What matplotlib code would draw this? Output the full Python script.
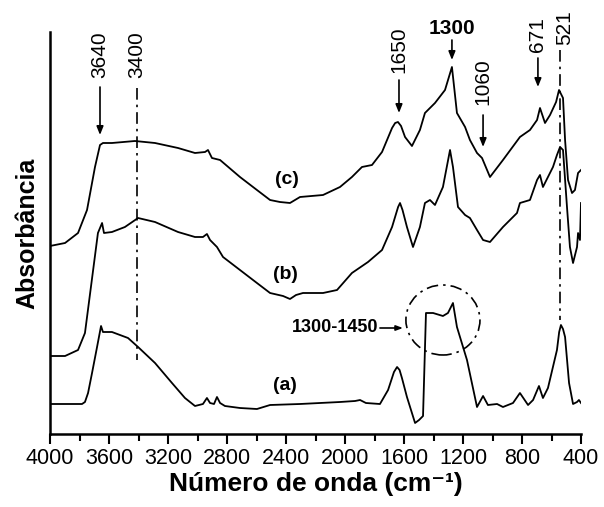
import matplotlib
matplotlib.use("Agg")
import matplotlib.pyplot as plt
from matplotlib.patches import Ellipse

plt.rcParams['font.family'] = ['Liberation Sans', 'DejaVu Sans']

# ---- data (wavenumber in cm-1, absorbance in arbitrary units) ----
wn_a = [4000, 3783, 3763, 3742, 3715, 3681, 3654, 3641, 3580, 3471, 3403, 3288, 3173, 3085, 3017,
        2963, 2936, 2915, 2888, 2868, 2847, 2814, 2712, 2597, 2508, 2305, 2034, 1932, 1898, 1858,
        1763, 1708, 1668, 1647, 1630, 1614, 1580, 1525, 1498, 1471, 1451, 1403, 1336, 1302, 1268,
        1241, 1173, 1105, 1064, 1031, 969, 929, 861, 814, 759, 725, 685, 658, 624, 563, 548, 536,
        522, 508, 481, 454, 427, 414, 400]
abs_a = [0.30, 0.30, 0.32, 0.41, 0.61, 0.87, 1.08, 1.02, 1.02, 0.96, 0.87, 0.71, 0.51, 0.36, 0.28,
         0.30, 0.36, 0.31, 0.30, 0.37, 0.31, 0.28, 0.26, 0.25, 0.29, 0.30, 0.32, 0.33, 0.34, 0.31,
         0.30, 0.44, 0.62, 0.67, 0.64, 0.56, 0.37, 0.11, 0.14, 0.18, 1.21, 1.21, 1.18, 1.21, 1.31,
         1.07, 0.74, 0.27, 0.38, 0.29, 0.30, 0.27, 0.31, 0.41, 0.29, 0.34, 0.48, 0.36, 0.46, 0.84,
         1.02, 1.09, 1.05, 0.97, 0.51, 0.30, 0.32, 0.34, 0.31]

wn_b = [4000, 3898, 3810, 3763, 3675, 3647, 3634, 3580, 3492, 3403, 3288, 3132, 3017, 2963, 2936,
        2915, 2868, 2827, 2712, 2597, 2508, 2420, 2373, 2332, 2285, 2149, 2054, 1953, 1844, 1749,
        1681, 1640, 1627, 1610, 1580, 1539, 1492, 1458, 1424, 1390, 1336, 1288, 1268, 1234, 1186,
        1153, 1105, 1064, 1017, 929, 834, 814, 746, 698, 678, 658, 624, 590, 563, 542, 522, 495,
        475, 454, 427, 420, 407, 400]
abs_b = [0.78, 0.78, 0.84, 1.01, 2.01, 2.11, 2.01, 2.02, 2.07, 2.16, 2.12, 2.02, 1.97, 1.97, 2.00,
         1.94, 1.87, 1.77, 1.64, 1.51, 1.41, 1.38, 1.35, 1.39, 1.41, 1.41, 1.44, 1.61, 1.72, 1.84,
         2.07, 2.27, 2.31, 2.24, 2.07, 1.87, 2.07, 2.31, 2.34, 2.29, 2.47, 2.84, 2.67, 2.27, 2.19,
         2.16, 2.04, 1.94, 1.92, 2.07, 2.21, 2.31, 2.34, 2.54, 2.59, 2.47, 2.57, 2.67, 2.79, 2.87,
         2.84, 2.27, 1.87, 1.71, 1.87, 2.01, 1.94, 2.31]

wn_c = [4000, 3898, 3810, 3749, 3695, 3661, 3641, 3580, 3424, 3288, 3132, 3017, 2949, 2929, 2902,
        2847, 2712, 2597, 2508, 2441, 2373, 2305, 2149, 2034, 1953, 1885, 1817, 1749, 1681, 1660,
        1641, 1620, 1593, 1546, 1492, 1458, 1390, 1322, 1275, 1241, 1186, 1153, 1105, 1071, 1017,
        929, 814, 746, 698, 678, 644, 610, 569, 549, 522, 508, 488, 461, 441, 420, 400]
abs_c = [1.88, 1.91, 2.01, 2.24, 2.67, 2.89, 2.91, 2.91, 2.93, 2.91, 2.86, 2.81, 2.82, 2.84, 2.76,
         2.74, 2.57, 2.44, 2.34, 2.32, 2.31, 2.37, 2.39, 2.47, 2.57, 2.67, 2.69, 2.82, 3.06, 3.11,
         3.12, 3.08, 2.97, 2.88, 3.04, 3.21, 3.31, 3.44, 3.67, 3.21, 3.07, 2.94, 2.81, 2.76, 2.57,
         2.74, 2.97, 3.04, 3.14, 3.26, 3.11, 3.19, 3.32, 3.44, 3.36, 2.94, 2.54, 2.41, 2.44, 2.61,
         2.64]

xticks = [4000, 3600, 3200, 2800, 2400, 2000, 1600, 1200, 800, 400]

# ---- figure ----
fig = plt.figure(figsize=(6.04, 5.07), dpi=100)
ax = fig.add_axes([50/604, 73/507, 531/604, 402/507])

for w, a in [(wn_a, abs_a), (wn_b, abs_b), (wn_c, abs_c)]:
    ax.plot(w, a, color='black', lw=1.3)

ax.set_xlim(4000, 400)
ax.set_ylim(0, 4.02)
ax.set_xticks(xticks)
ax.set_xticks(range(400, 4001, 200), minor=True)
ax.set_yticks([])
ax.tick_params(axis='x', which='major', direction='out', length=7, width=1.5,
               labelsize=15.5, pad=3)
ax.tick_params(axis='x', which='minor', direction='out', length=5, width=1.5)
for s in ['top', 'right']:
    ax.spines[s].set_visible(False)
for s in ['left', 'bottom']:
    ax.spines[s].set_linewidth(1.8)

ax.set_xlabel('Número de onda (cm\u207b\u00b9)', fontsize=19, fontweight='bold', labelpad=2)
ax.set_ylabel('Absorbância', fontsize=18, fontweight='bold', labelpad=8)

dashdot = (0, (7, 3, 1.5, 3))
arrow_kw = dict(arrowstyle='-|>,head_length=0.5,head_width=0.2', color='black', lw=1.2,
                shrinkA=0, shrinkB=0)

# vertical annotations with arrows
def arrow_label(x, ytext, y0, y1, label, weight='normal'):
    ax.text(x, ytext, label, rotation=90, ha='center', va='center', fontsize=15,
            fontweight=weight, clip_on=False)
    ax.annotate('', xy=(x, y1), xytext=(x, y0), arrowprops=arrow_kw, annotation_clip=False)

arrow_label(3661, 3.79, 3.47, 2.99, '3640')
arrow_label(1634, 3.84, 3.54, 3.21, '1650')
arrow_label(1064, 3.52, 3.19, 2.87, '1060')
arrow_label(692, 3.99, 3.76, 3.47, '671')

# 1300 horizontal
ax.text(1275, 4.05, '1300', ha='center', va='center', fontsize=15, fontweight='bold', clip_on=False)
ax.annotate('', xy=(1275, 3.74), xytext=(1275, 3.94), arrowprops=arrow_kw, annotation_clip=False)

# dash-dot reference lines
ax.text(3410, 3.79, '3400', rotation=90, ha='center', va='center', fontsize=15, clip_on=False)
ax.plot([3410, 3410], [3.46, 0.74], color='black', lw=1.2, linestyle=dashdot)
ax.text(508, 4.06, '521', rotation=90, ha='center', va='center', fontsize=15, clip_on=False)
ax.plot([542, 542], [3.84, 1.14], color='black', lw=1.2, linestyle=dashdot)

# curve labels
ax.text(2393, 2.54, '(c)', ha='center', va='center', fontsize=14, fontweight='bold')
ax.text(2407, 1.59, '(b)', ha='center', va='center', fontsize=14, fontweight='bold')
ax.text(2407, 0.49, '(a)', ha='center', va='center', fontsize=14, fontweight='bold')

# 1300-1450 region
ax.text(1776, 1.06, '1300-1450', ha='right', va='center', fontsize=13, fontweight='bold')
ax.annotate('', xy=(1607, 1.06), xytext=(1763, 1.06),
            arrowprops=dict(arrowstyle='-|>,head_length=0.4,head_width=0.15', color='black',
                            lw=1.2, shrinkA=0, shrinkB=0))
ax.add_patch(Ellipse((1336, 1.14), 502, 0.70, fill=False, edgecolor='black', lw=1.2,
                     linestyle=dashdot))

fig.savefig('out.png', dpi=100)
